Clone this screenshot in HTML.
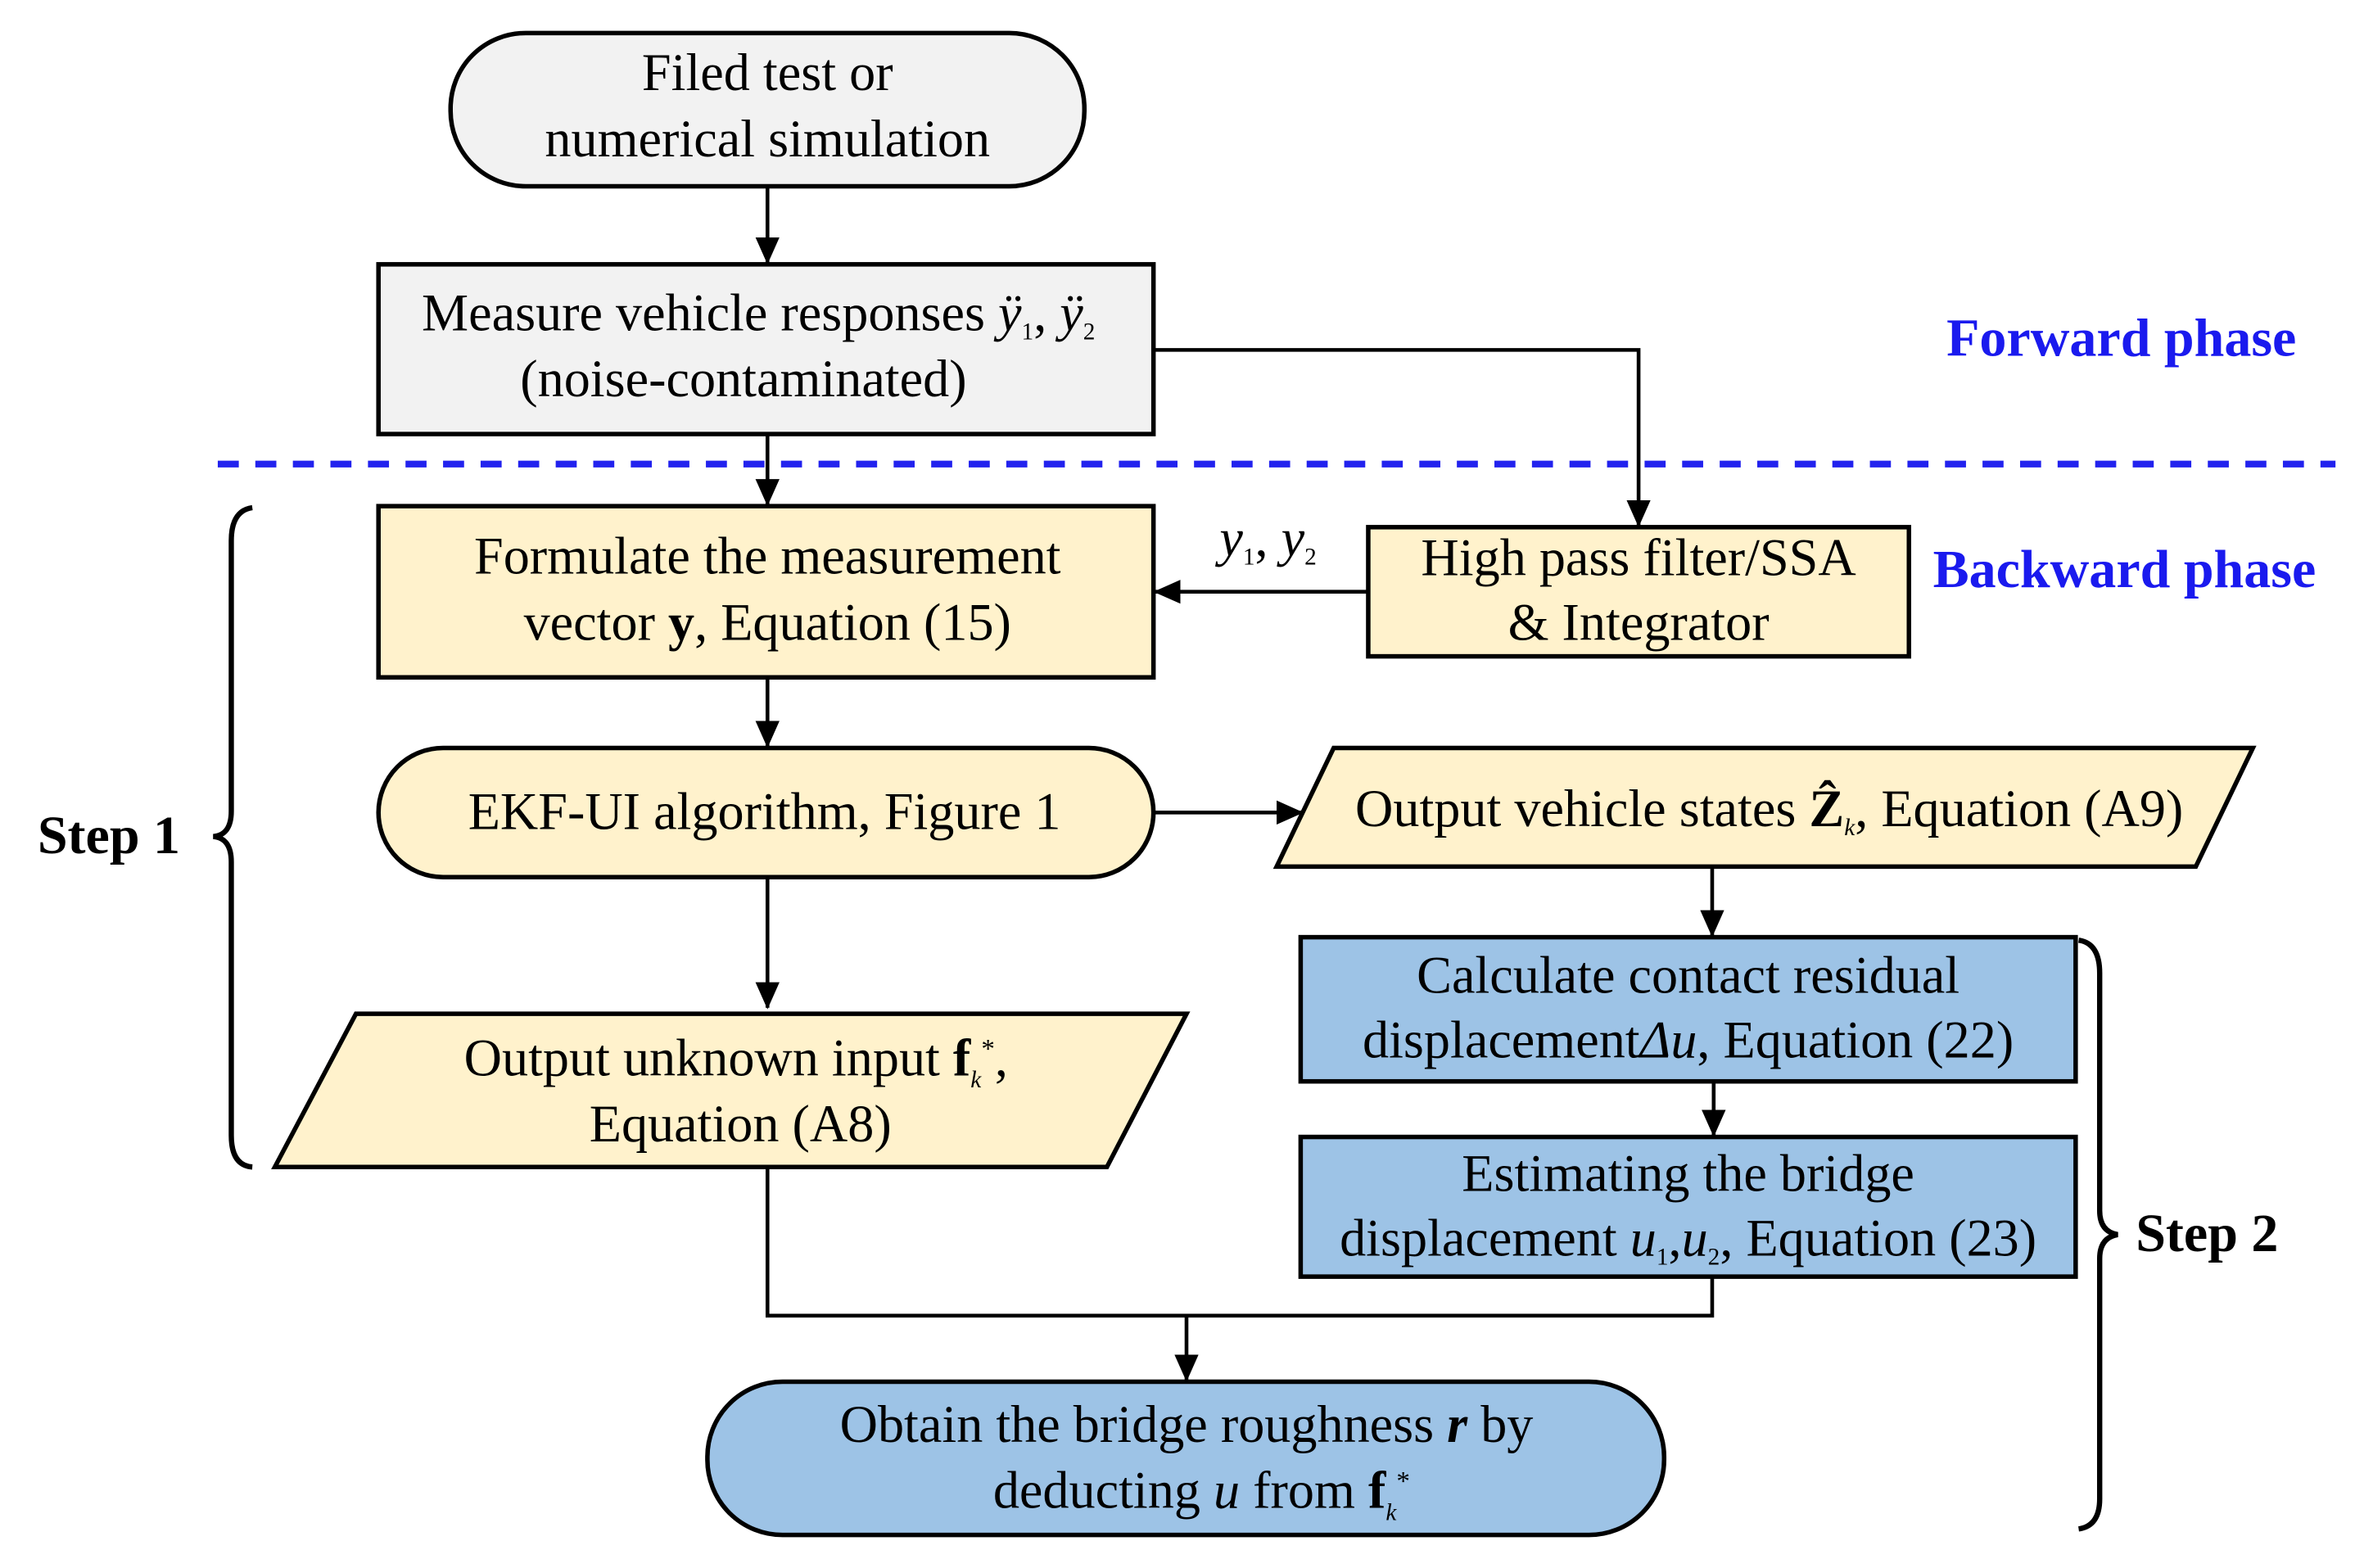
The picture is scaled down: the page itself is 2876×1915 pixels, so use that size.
<!DOCTYPE html>
<html><head><meta charset="utf-8"><style>
html,body{margin:0;padding:0;background:#fff;}
svg{display:block;}
text{font-family:"Liberation Serif",serif;font-size:32px;fill:#000;}
</style></head><body>
<svg width="2876" height="1915" viewBox="0 0 1568 1044" preserveAspectRatio="none" xmlns="http://www.w3.org/2000/svg">
<defs>
<marker id="ar" markerWidth="18" markerHeight="16" refX="17" refY="8" orient="auto" markerUnits="userSpaceOnUse" viewBox="0 0 18 16">
<path d="M0,0 L18,8 L0,16 z" fill="#000"/>
</marker>
</defs>
<g stroke="#000" stroke-width="3">
<rect x="300" y="22" width="422" height="102" rx="50" fill="#f2f2f2"/>
<rect x="252" y="176" width="516" height="113" fill="#f2f2f2"/>
<rect x="252" y="337" width="516" height="114" fill="#fff2cc"/>
<rect x="911" y="351" width="360" height="86" fill="#fff2cc"/>
<rect x="252" y="498" width="516" height="86" rx="43" fill="#fff2cc"/>
<polygon points="850,577 888,498 1500,498 1462,577" fill="#fff2cc"/>
<rect x="866" y="624" width="516" height="96" fill="#9dc3e6"/>
<rect x="866" y="757" width="516" height="93" fill="#9dc3e6"/>
<polygon points="183,777 237,675 790,675 737,777" fill="#fff2cc"/>
<rect x="471" y="920" width="637" height="102" rx="50" fill="#9dc3e6"/>
</g>
<g stroke="#000" stroke-width="2.5" fill="none">
<line x1="511" y1="124" x2="511" y2="175" marker-end="url(#ar)"/>
<line x1="511" y1="289" x2="511" y2="336" marker-end="url(#ar)"/>
<polyline points="768,233 1091,233 1091,350" marker-end="url(#ar)"/>
<line x1="911" y1="394" x2="769" y2="394" marker-end="url(#ar)"/>
<line x1="511" y1="451" x2="511" y2="497" marker-end="url(#ar)"/>
<line x1="768" y1="541" x2="867" y2="541" marker-end="url(#ar)"/>
<line x1="1140" y1="577" x2="1140" y2="623" marker-end="url(#ar)"/>
<line x1="1141" y1="720" x2="1141" y2="756" marker-end="url(#ar)"/>
<line x1="511" y1="584" x2="511" y2="671" marker-end="url(#ar)"/>
<polyline points="511,777 511,876 1140,876 1140,850"/>
<line x1="790" y1="876" x2="790" y2="919" marker-end="url(#ar)"/>
<path d="M168,338 Q154,340 154,360 L154,540 Q154,556 142,557 Q154,558 154,574 L154,756 Q154,776 168,777" stroke-width="3.5"/>
<path d="M1384,626 Q1398,628 1398,648 L1398,806 Q1398,820 1410,822 Q1398,824 1398,838 L1398,998 Q1398,1016 1384,1018" stroke-width="3.5"/>
</g>
<line x1="145" y1="309" x2="1555" y2="309" stroke="#2222ee" stroke-width="4.5" stroke-dasharray="14,11"/>
<g text-anchor="middle" style="font-size:35px">
<text x="511" y="60" style="font-size:35px">Filed test or</text>
<text x="511" y="104" style="font-size:35px">numerical simulation</text>
<text x="505" y="220" style="font-size:35px">Measure vehicle responses <tspan font-style="italic">ÿ</tspan><tspan font-size="16" dy="6">1</tspan><tspan dy="-6">, </tspan><tspan font-style="italic">ÿ</tspan><tspan font-size="16" dy="6">2</tspan></text>
<text x="495" y="264" style="font-size:35px">(noise-contaminated)</text>
<text x="511" y="382" style="font-size:35px">Formulate the measurement</text>
<text x="511" y="426" style="font-size:35px">vector <tspan font-weight="bold">y</tspan>, Equation (15)</text>
<text x="1091" y="383" style="font-size:35px">High pass filter/SSA</text>
<text x="1091" y="426" style="font-size:35px">&amp; Integrator</text>
<text x="509" y="552" style="font-size:35px">EKF-UI algorithm, Figure 1</text>
<text x="1178" y="550" style="font-size:35px">Output vehicle states <tspan font-weight="bold">Ẑ</tspan><tspan font-size="16" font-style="italic" dy="6">k</tspan><tspan dy="-6">, Equation (A9)</tspan></text>
<text x="1124" y="661" style="font-size:35px">Calculate contact residual</text>
<text x="1124" y="704" style="font-size:35px">displacement<tspan font-style="italic">Δu</tspan>, Equation (22)</text>
<text x="1124" y="793" style="font-size:35px">Estimating the bridge</text>
<text x="1124" y="836" style="font-size:35px">displacement <tspan font-style="italic">u</tspan><tspan font-size="16" dy="6">1</tspan><tspan dy="-6">,</tspan><tspan font-style="italic">u</tspan><tspan font-size="16" dy="6">2</tspan><tspan dy="-6">, Equation (23)</tspan></text>
<text x="490" y="716" style="font-size:35px">Output unknown input <tspan font-weight="bold">f</tspan><tspan font-size="16" font-style="italic" dy="8">k</tspan><tspan font-size="18" dy="-20">*</tspan><tspan dy="12">,</tspan></text>
<text x="493" y="760" style="font-size:35px">Equation (A8)</text>
<text x="790" y="960" style="font-size:35px">Obtain the bridge roughness <tspan font-weight="bold" font-style="italic">r</tspan> by</text>
<text x="800" y="1004" style="font-size:35px">deducting <tspan font-style="italic">u</tspan> from <tspan font-weight="bold">f</tspan><tspan font-size="16" font-style="italic" dy="8">k</tspan><tspan font-size="18" dy="-20">*</tspan></text>
</g>
<text x="812" y="370" font-style="italic" style="font-size:35px">y<tspan font-size="16" font-style="normal" dy="6">1</tspan><tspan font-style="normal" dy="-6">, </tspan>y<tspan font-size="16" font-style="normal" dy="6">2</tspan></text>
<text x="1296" y="237" font-weight="bold" style="fill:#1a1aee;font-size:36px">Forward phase</text>
<text x="1287" y="391" font-weight="bold" style="fill:#1a1aee;font-size:36px">Backward phase</text>
<text x="25" y="568" font-weight="bold" style="font-size:36px">Step 1</text>
<text x="1422" y="833" font-weight="bold" style="font-size:36px">Step 2</text>
</svg>
</body></html>
